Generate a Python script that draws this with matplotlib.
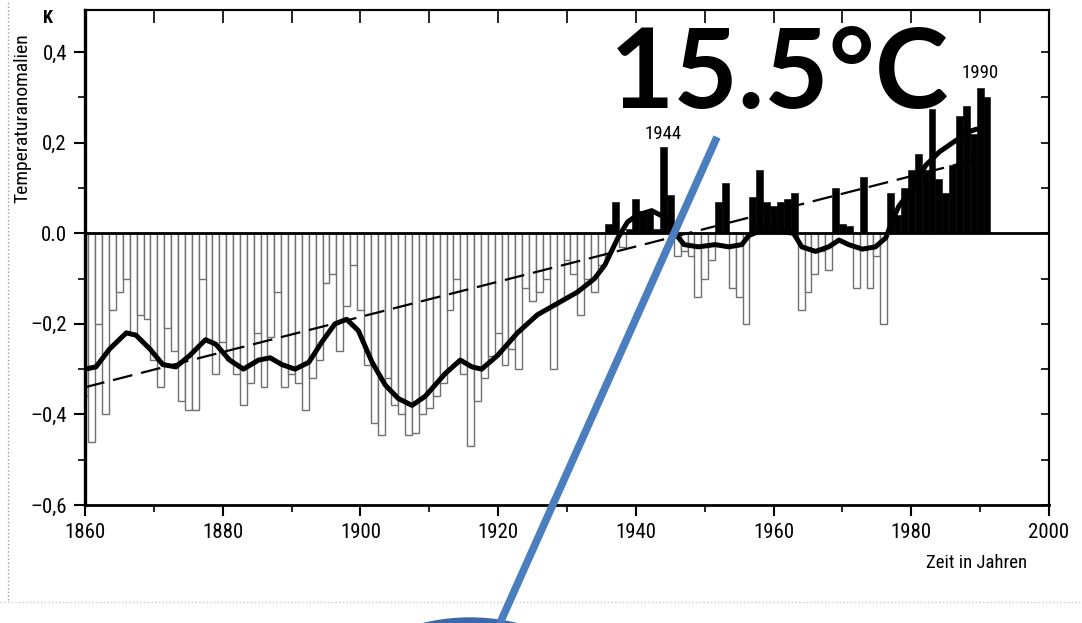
import matplotlib
matplotlib.use('Agg')
import matplotlib.pyplot as plt
from matplotlib import font_manager
from matplotlib.patches import Ellipse
from matplotlib.lines import Line2D
import numpy as np

# yearly temperature anomalies (K), 1860-1991
years = np.arange(1860, 1992)
anomaly = [
    -0.36, -0.46, -0.20, -0.40, -0.17, -0.13, -0.10, -0.22, -0.18, -0.19,   # 1860s
    -0.28, -0.34, -0.21, -0.26, -0.37, -0.39, -0.39, -0.10, -0.24, -0.31,   # 1870s
    -0.24, -0.28, -0.31, -0.38, -0.33, -0.22, -0.34, -0.23, -0.13, -0.34,   # 1880s
    -0.31, -0.33, -0.39, -0.32, -0.28, -0.11, -0.09, -0.26, -0.16, -0.07,   # 1890s
    -0.17, -0.29, -0.42, -0.445, -0.32, -0.38, -0.40, -0.445, -0.44, -0.40, # 1900s
    -0.385, -0.36, -0.33, -0.17, -0.10, -0.31, -0.47, -0.37, -0.32, -0.27,  # 1910s
    -0.22, -0.29, -0.255, -0.30, -0.12, -0.15, -0.13, -0.10, -0.30, -0.15,  # 1920s
    -0.06, -0.09, -0.18, -0.10, -0.13, -0.07, 0.02, 0.07, -0.03, 0.01,      # 1930s
    0.075, 0.05, 0.05, 0.01, 0.19, 0.085, -0.05, -0.04, -0.05, -0.14,       # 1940s
    -0.10, -0.06, 0.07, 0.11, -0.12, -0.14, -0.20, 0.08, 0.14, 0.07,        # 1950s
    0.06, 0.07, 0.075, 0.088, -0.17, -0.13, -0.09, -0.04, -0.08, 0.10,      # 1960s
    0.02, 0.015, -0.12, 0.125, -0.12, -0.05, -0.20, 0.088, 0.04, 0.10,      # 1970s
    0.14, 0.175, 0.14, 0.275, 0.12, 0.09, 0.15, 0.26, 0.28, 0.22,           # 1980s
    0.32, 0.30,                                                             # 1990s
]

# smoothed curve (year, K)
curve_years = [1860, 1861.6, 1863.6, 1866, 1867.4, 1869.4, 1871.3, 1873.2, 1875.2,
               1877.5, 1879, 1881, 1883, 1885.2, 1886.9, 1888.6, 1890.5, 1892.5,
               1894.4, 1896.3, 1898, 1899.7, 1901.7, 1903.6, 1905.5, 1907.5, 1909.4,
               1912.3, 1914.5, 1916.2, 1917.6, 1919.9, 1922.8, 1925.7, 1928.6, 1931.5,
               1934, 1935.5, 1937.4, 1938.8, 1940.2, 1942.3, 1944.2, 1945.2, 1945.7,
               1947, 1949.1, 1951.5, 1953.5, 1955.4, 1956.4, 1958, 1960.5, 1962.9,
               1964.1, 1966.1, 1968, 1969.5, 1970.9, 1972.9, 1974.8, 1976.3, 1977.3,
               1978.2, 1980.2, 1982.1, 1984.1, 1986.5, 1988.5, 1989.5]
curve_vals = [-0.30, -0.295, -0.255, -0.22, -0.225, -0.255, -0.29, -0.295, -0.27,
              -0.235, -0.245, -0.28, -0.30, -0.28, -0.275, -0.29, -0.30, -0.285,
              -0.24, -0.20, -0.19, -0.215, -0.285, -0.335, -0.365, -0.38, -0.36,
              -0.31, -0.28, -0.295, -0.30, -0.27, -0.22, -0.18, -0.155, -0.13,
              -0.10, -0.07, -0.01, 0.025, 0.04, 0.05, 0.035, 0.01, 0.0,
              -0.025, -0.03, -0.025, -0.03, -0.025, -0.005, 0.005, 0.005, 0.0,
              -0.03, -0.04, -0.03, -0.015, -0.025, -0.035, -0.03, -0.01, 0.03,
              0.06, 0.10, 0.15, 0.18, 0.205, 0.225, 0.23]

# linear trend
trend_years = [1860, 1990]
trend_vals = [-0.34, 0.165]

ytick_vals = [-0.6, -0.4, -0.2, 0.0, 0.2, 0.4]
ytick_labels = ['\u20130,6', '\u20130,4', '\u20130,2', '0.0', '0,2', '0,4']
xtick_vals = [1860, 1880, 1900, 1920, 1940, 1960, 1980, 2000]

names = {f.name for f in font_manager.fontManager.ttflist}
narrow = next((n for n in ['Liberation Sans Narrow', 'DejaVu Sans Condensed',
                           'Roboto Condensed', 'Liberation Sans'] if n in names), 'DejaVu Sans')
big_font = 'Lato' if 'Lato' in names else 'DejaVu Sans'

W, H = 1082, 623
fig = plt.figure(figsize=(W / 100, H / 100), dpi=100)
ax = fig.add_axes([85 / W, 1 - 505 / H, (1049 - 85) / W, (505 - 10) / H])

years = np.array(years)
anomaly = np.array(anomaly)
neg = anomaly < 0
ax.bar(years[neg], anomaly[neg], width=1.0, facecolor='white',
       edgecolor='#707070', linewidth=1.0, zorder=1)
ax.bar(years[~neg], anomaly[~neg], width=1.0, color='black',
       edgecolor='black', linewidth=0.4, zorder=2)

ax.axhline(0, color='black', lw=2, zorder=3)
ax.plot(trend_years, trend_vals, color='black', lw=1.6, dashes=(9, 4), zorder=4)
ax.plot(curve_years, curve_vals, color='black', lw=3.6,
        solid_capstyle='round', solid_joinstyle='round', zorder=5)

ax.text(1944, 0.2, '1944', ha='center', va='bottom', fontsize=13.5, family=narrow)
ax.text(1990, 0.335, '1990', ha='center', va='bottom', fontsize=13.5, family=narrow)

ax.set_xlim(1860, 2000)
ax.set_ylim(-0.6, 0.493)
ax.set_xticks(xtick_vals)
ax.set_xticks(range(1870, 2000, 20), minor=True)
ax.set_yticks(ytick_vals)
ax.set_yticklabels(ytick_labels)
ax.set_yticks([-0.5, -0.3, -0.1, 0.1, 0.3], minor=True)
ax.tick_params(axis='both', which='major', direction='out', length=8, width=1.5,
               labelsize=15, pad=5)
ax.tick_params(axis='both', which='minor', direction='out', length=5, width=1.2)
for lab in ax.get_xticklabels() + ax.get_yticklabels():
    lab.set_family(narrow)

top = ax.secondary_xaxis('top')
top.set_xticks(range(1860, 2001, 10))
top.tick_params(direction='in', length=9, width=1.2, labeltop=False)
right = ax.secondary_yaxis('right')
right.set_yticks(np.arange(-0.6, 0.45, 0.1))
right.tick_params(direction='in', length=6, width=1.2, labelright=False)

for side, lw in [('left', 2.4), ('bottom', 2.0), ('top', 1.5), ('right', 1.5)]:
    ax.spines[side].set_linewidth(lw)
top.spines['top'].set_linewidth(1.5)
right.spines['right'].set_linewidth(1.5)

fig.text(48 / W, 1 - 18 / H, 'K', fontsize=13, fontweight='bold', family=narrow,
         ha='center', va='center')
fig.text(22 / W, 1 - 118 / H, 'Temperaturanomalien', rotation=90, fontsize=14,
         family=narrow, ha='center', va='center')
fig.text(977 / W, 1 - 563 / H, 'Zeit in Jahren', fontsize=13.5, family=narrow,
         ha='center', va='center')

# overlay annotation
fig.text(610 / W, 1 - 108 / H, '15.5\u00b0C', fontsize=80, fontweight='bold',
         family=big_font, ha='left', va='baseline')
fig.add_artist(Ellipse((470 / W, 1 - 818 / H), 400 / W, 400 / H,
                       color='#3a68a8', zorder=5))
fig.add_artist(Line2D([717 / W, 500 / W], [1 - 137 / H, 0], color='#4a7ebf',
                      lw=5.5, solid_capstyle='butt', zorder=6))

# scan borders
fig.add_artist(Line2D([8 / W, 8 / W], [1 - 600 / H, 1], color='#999999', lw=1, ls=':'))
fig.add_artist(Line2D([0, 1], [1 - 602 / H, 1 - 602 / H], color='#cccccc', lw=1, ls=':'))

fig.savefig('out.png', dpi=100)
